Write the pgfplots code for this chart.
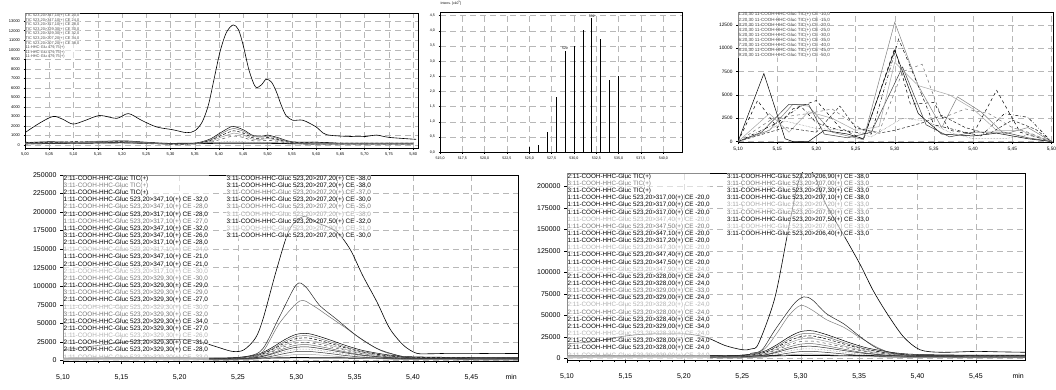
\documentclass[border=0pt]{standalone}
\usepackage{fontspec}
\setmainfont{Liberation Sans}
\usepackage{pgfplots}
\usepackage{pgfplotstable}
\pgfplotsset{compat=1.18}

\pgfplotstableread{
x a b c d e f
5.00 0.25 0.20 0.30 0.15 0.10 0.30
5.05 0.35 0.30 0.25 0.20 0.15 0.30
5.10 0.30 0.25 0.35 0.20 0.15 0.30
5.15 0.35 0.40 0.30 0.30 0.20 0.35
5.20 0.45 0.40 0.35 0.30 0.25 0.30
5.25 0.30 0.25 0.20 0.20 0.15 0.25
5.30 0.15 0.12 0.10 0.10 0.08 0.20
5.35 0.20 0.18 0.15 0.12 0.10 0.20
5.38 0.60 0.50 0.45 0.35 0.25 0.25
5.40 1.20 1.05 0.90 0.75 0.55 0.30
5.42 1.80 1.60 1.35 1.10 0.85 0.38
5.43 1.95 1.75 1.50 1.25 0.95 0.40
5.45 1.60 1.45 1.25 1.05 0.80 0.35
5.47 1.00 0.90 0.75 0.60 0.45 0.25
5.49 0.95 0.85 0.72 0.60 0.45 0.25
5.50 1.05 0.95 0.80 0.70 0.50 0.25
5.52 0.80 0.70 0.60 0.50 0.40 0.22
5.55 0.35 0.30 0.25 0.20 0.15 0.20
5.60 0.30 0.25 0.30 0.15 0.10 0.20
5.65 0.20 0.15 0.20 0.12 0.10 0.15
5.70 0.20 0.15 0.20 0.12 0.10 0.15
5.75 0.20 0.15 0.20 0.12 0.10 0.15
5.80 0.20 0.15 0.20 0.12 0.10 0.15
}\tabA

\pgfplotstableread{
x c1 c2 c3 c4 c5 c6 c7 c8 c9 c10
5.10 3 2 2.5 1.5 2 1 1.5 1 0.5 0.5
5.15 3.5 2.5 3 2 2.5 1.5 2 1.5 1 0.8
5.20 3.5 2.5 3 2 2.5 1.5 2 1.5 1 0.8
5.24 3 2 2.5 1.5 2 1 1.5 1 0.5 0.5
5.26 5.6 4.5 4.7 3.5 3.8 2.6 2.8 2.1 1.4 1.1
5.27 9.6 8.2 8.0 6.6 6.4 5.0 4.8 3.8 2.8 2.0
5.28 17.9 16.0 14.9 13.0 11.9 10.0 8.9 7.3 5.7 3.9
5.29 27.8 25.3 23.1 20.6 18.5 16.0 13.9 11.5 9.1 6.1
5.30 35.0 32.1 29.2 26.2 23.3 20.4 17.5 14.6 11.7 7.8
5.31 36.0 33.0 30.0 27.0 24.0 21.0 18.0 15.0 12.0 8.0
5.32 32.0 29.3 26.7 23.9 21.4 18.6 16.0 13.3 10.6 7.1
5.33 26.8 24.3 22.3 19.9 17.8 15.4 13.4 11.1 8.8 5.9
5.34 21.2 19.1 17.6 15.5 14.1 12.0 10.6 8.7 6.8 4.6
5.35 16.2 14.4 13.5 11.7 10.8 9.0 8.1 6.6 5.1 3.5
5.36 12.2 10.7 10.2 8.6 8.2 6.6 6.1 4.9 3.7 2.6
5.38 7.0 5.7 5.8 4.6 4.6 3.4 3.5 2.7 1.9 1.4
5.40 4.7 3.6 3.9 2.8 3.1 2.0 2.3 1.7 1.1 0.9
5.45 3.7 2.6 3.05 2.0 2.4 1.4 1.8 1.3 0.7 0.65
5.49 3.7 2.6 3.05 2.0 2.4 1.4 1.8 1.3 0.7 0.65
}\tabB

\pgfplotstableread{
x d1 d2 d3 d4 d5 d6 d7 d8 d9 d10
5.10 3 2 2.5 1.5 2 1 1.5 1 0.5 0.5
5.15 3.5 2.5 3 2 2.5 1.5 2 1.5 1 0.8
5.20 3.5 2.5 3 2 2.5 1.5 2 1.5 1 0.8
5.24 3 2 2.5 1.5 2 1 1.5 1 0.5 0.5
5.26 5.3 4.2 4.4 3.2 3.4 2.3 2.5 1.8 1.1 0.86
5.27 8.8 7.4 7.2 5.8 5.6 4.2 4.0 3.0 2.0 1.4
5.28 16.1 14.2 13.1 11.2 10.1 8.2 7.1 5.5 3.9 2.5
5.29 24.8 22.3 20.1 17.6 15.5 13.0 10.9 8.5 6.1 3.9
5.30 31.1 28.2 25.3 22.4 19.5 16.5 13.6 10.7 7.8 4.9
5.31 32.0 29.0 26.0 23.0 20.0 17.0 14.0 11.0 8.0 5.0
5.32 28.5 25.8 23.2 20.4 17.8 15.1 12.5 9.8 7.1 4.5
5.33 23.9 21.4 19.4 17.0 15.0 12.5 10.5 8.2 5.9 3.7
5.34 19.0 16.9 15.4 13.3 11.9 9.8 8.4 6.5 4.6 3.0
5.35 14.6 12.8 11.9 10.1 9.2 7.4 6.5 5.0 3.5 2.3
5.36 11.1 9.6 9.1 7.5 7.0 5.5 5.0 3.8 2.6 1.8
5.38 6.5 5.2 5.3 4.1 4.2 2.9 3.0 2.2 1.4 1.0
5.40 4.5 3.4 3.7 2.6 2.9 1.8 2.1 1.5 0.9 0.7
5.45 3.6 2.5 3.0 1.9 2.4 1.3 1.75 1.2 0.65 0.6
5.495 3.6 2.5 3.0 1.9 2.4 1.3 1.75 1.2 0.65 0.6
}\tabC

\pgfplotsset{
  base/.style={scale only axis, anchor=south west,
    axis line style={black, line width=0.5pt},
    tick align=outside, xtick pos=left, ytick pos=left,
    scaled x ticks=false, scaled y ticks=false,
    grid=major, major grid style={black!28, dash pattern=on 6pt off 4pt, line width=0.35pt},
    tick style={black, line width=0.35pt},
    every axis plot/.append style={line width=0.5pt, mark=none},
    clip=true},
  c1/.style={black},
  c2/.style={black!55},
  c3/.style={black, densely dashed},
  c4/.style={black!40},
  c5/.style={black!70, dashed},
  c6/.style={black!60},
  c7/.style={black!85},
  c8/.style={black!50, densely dotted},
  c9/.style={black!80},
  c10/.style={black!35},
}
\tikzset{legtext/.style={anchor=north west, align=left, inner sep=0.5pt, fill=white, fill opacity=0.55, text opacity=1}}

\begin{document}
\begin{tikzpicture}
\useasboundingbox (0pt,0pt) rectangle (1056pt,389pt);

% ---------------- Panel 1 ----------------
\begin{axis}[base, at={(25pt,241pt)}, width=393pt, height=135pt,
  xmin=5.0, xmax=5.81, ymin=-0.31, ymax=13.85,
  xtick={5.00,5.05,5.10,5.15,5.20,5.25,5.30,5.35,5.40,5.45,5.50,5.55,5.60,5.65,5.70,5.75,5.80},
  xticklabels={{5,00},{5,05},{5,10},{5,15},{5,20},{5,25},{5,30},{5,35},{5,40},{5,45},{5,50},{5,55},{5,60},{5,65},{5,70},{5,75},{5,80}},
  ytick={0,1,2,3,4,5,6,7,8,9,10,11,12,13},
  yticklabels={0,1000,2000,3000,4000,5000,6000,7000,8000,9000,10000,11000,12000,13000},
  tick label style={font=\fontsize{4}{4}\selectfont},
  major tick length=1.5pt]
\addplot[black, line width=1.1pt] coordinates {(5.00,0.15) (5.10,0.2) (5.20,0.25) (5.30,0.15) (5.40,0.2) (5.50,0.2) (5.60,0.12) (5.80,0.12)};
\addplot[smooth, c1] table[x=x,y=a]{\tabA};
\addplot[smooth, c2] table[x=x,y=b]{\tabA};
\addplot[smooth, c3] table[x=x,y=c]{\tabA};
\addplot[smooth, c4] table[x=x,y=d]{\tabA};
\addplot[smooth, c5] table[x=x,y=e]{\tabA};
\addplot[smooth, c8] table[x=x,y=f]{\tabA};
\addplot[smooth, black, line width=0.6pt] coordinates {
(5.000,1.3) (5.030,2.3) (5.058,3.0) (5.078,2.7) (5.099,2.2) (5.125,2.6) (5.154,3.1)
(5.189,2.8) (5.213,3.3) (5.240,2.6) (5.271,1.9) (5.305,1.6) (5.333,1.3) (5.350,1.5)
(5.365,2.4) (5.378,4.2) (5.390,7.0) (5.402,9.8) (5.415,11.8) (5.429,12.6) (5.440,12.1)
(5.450,10.4) (5.462,7.8) (5.475,6.1) (5.487,6.3) (5.497,6.9) (5.508,6.6) (5.518,5.6)
(5.528,4.2) (5.538,3.1) (5.552,2.6) (5.573,2.6) (5.600,1.9) (5.621,1.1) (5.669,0.9)
(5.703,0.9) (5.724,1.05) (5.751,0.8) (5.806,0.6)};
\node[legtext, font=\fontsize{3.9}{4.6}\selectfont, text=black!70] at (rel axis cs:0,1) {%
TIC 523,20>347,10(+) CE 20,0\\ TIC 523,20>347,10(+) CE 24,0\\ TIC 523,20>317,10(+) CE 28,0\\
TIC 523,20>329,30(+) CE 30,0\\ TIC 523,20>329,30(+) CE 32,0\\ TIC 523,20>207,20(+) CE 34,0\\
TIC 523,20>207,20(+) CE 38,0\\ 11-HHC-Glu 479,75(+)\\ 11-HHC-Glu 479,75(+)\\ 11-HHC-Glu 479,75(+)};
\end{axis}

% ---------------- Panel 2 ----------------
\begin{axis}[base, at={(440pt,237pt)}, width=242pt, height=140pt,
  xmin=515, xmax=542.1, ymin=0, ymax=4.62, clip=false,
  xtick={515,517.5,520,522.5,525,527.5,530,532.5,535,537.5,540},
  xticklabels={{515,0},{517,5},{520,0},{522,5},{525,0},{527,5},{530,0},{532,5},{535,0},{537,5},{540,0}},
  ytick={0,0.5,1,1.5,2,2.5,3,3.5,4,4.5},
  yticklabels={{0,0},{0,5},{1,0},{1,5},{2,0},{2,5},{3,0},{3,5},{4,0},{4,5}},
  tick label style={font=\fontsize{3.6}{3.6}\selectfont},
  major tick length=1.5pt,
  title={Intens. [x10\textsuperscript{5}]}, title style={at={(axis description cs:0,1)}, anchor=south west, font=\fontsize{3.4}{3.4}\selectfont, inner sep=0.5pt}]
\addplot[ycomb, black, line width=0.7pt] coordinates {
(525,0.16) (526,0.24) (527,0.65) (528,1.80) (529,3.34) (530,3.49) (531,4.02) (532,4.42) (533,3.74) (534,2.39) (535,2.50)};
\node[above, font=\fontsize{3.4}{3.4}\selectfont, inner sep=0.8pt] at (axis cs:529,3.34) {529};
\node[above, font=\fontsize{3.4}{3.4}\selectfont, inner sep=0.8pt] at (axis cs:532,4.42) {532};
\end{axis}

% ---------------- Panel 3 ----------------
\begin{axis}[base, at={(738pt,247pt)}, width=315pt, height=130pt,
  xmin=5.10, xmax=5.502, ymin=-50, ymax=13900,
  xtick={5.10,5.15,5.20,5.25,5.30,5.35,5.40,5.45,5.50},
  xticklabels={{5,10},{5,15},{5,20},{5,25},{5,30},{5,35},{5,40},{5,45},{5,50}},
  minor x tick num=4,
  ytick={0,2500,5000,7500,10000,12500},
  yticklabels={0,2500,5000,7500,10000,12500},
  tick label style={font=\fontsize{4.8}{4.8}\selectfont},
  major tick length=2pt, minor tick length=1.2pt]
\addplot[black] coordinates {(5.10,0) (5.133,7300) (5.16,300) (5.17,0) (5.19,0) (5.21,1200) (5.24,800) (5.26,300) (5.30,9800) (5.33,3000) (5.36,800) (5.40,600) (5.43,900) (5.47,300) (5.50,0)};
\addplot[black, dashed] coordinates {(5.10,0) (5.125,4400) (5.15,1500) (5.17,3500) (5.20,4400) (5.23,1500) (5.26,200) (5.30,10000) (5.32,4000) (5.35,4200) (5.37,1200) (5.40,800) (5.43,5500) (5.46,1000) (5.50,0)};
\addplot[black!50] coordinates {(5.10,0) (5.14,1200) (5.17,4000) (5.19,3800) (5.22,1000) (5.26,200) (5.30,12800) (5.33,6000) (5.36,1500) (5.38,4800) (5.41,3200) (5.44,800) (5.47,1500) (5.50,0)};
\addplot[black!75] coordinates {(5.10,0) (5.13,1000) (5.165,4000) (5.19,4000) (5.21,800) (5.24,400) (5.27,1000) (5.31,8000) (5.34,1800) (5.37,500) (5.40,1000) (5.44,1000) (5.47,400) (5.50,0)};
\addplot[black, dash dot] coordinates {(5.10,0) (5.15,2000) (5.18,3800) (5.20,2000) (5.23,1200) (5.27,800) (5.305,11000) (5.325,7000) (5.35,1800) (5.38,1200) (5.41,600) (5.44,3000) (5.47,2600) (5.50,0)};
\addplot[black!55, dashed] coordinates {(5.10,0) (5.145,2500) (5.19,3000) (5.22,3500) (5.26,1200) (5.28,1000) (5.31,7500) (5.335,8300) (5.36,2500) (5.39,3500) (5.42,3000) (5.45,1500) (5.47,1000) (5.50,0)};
\addplot[black!35] coordinates {(5.10,0) (5.14,3000) (5.165,1000) (5.19,3200) (5.22,2500) (5.25,1200) (5.28,1600) (5.30,8500) (5.33,6000) (5.37,5000) (5.40,3500) (5.43,1200) (5.46,1200) (5.50,0)};
\addplot[black!85, densely dashed] coordinates {(5.10,0) (5.16,1500) (5.20,1000) (5.23,3800) (5.25,1500) (5.28,900) (5.30,1200) (5.335,2000) (5.36,2800) (5.39,1500) (5.42,800) (5.45,2300) (5.48,1300) (5.50,0)};
\addplot[black!50, densely dotted] coordinates {(5.10,0) (5.13,800) (5.16,2200) (5.20,1400) (5.24,1200) (5.27,500) (5.31,2500) (5.34,2200) (5.37,1000) (5.40,300) (5.44,300) (5.47,700) (5.50,0)};
\node[legtext, font=\fontsize{4.5}{5.1}\selectfont, text=black!75] at (rel axis cs:0,1) {%
1:20,30 11-COOH-HHC-Gluc TIC(+) CE -10,0\\ 2:20,30 11-COOH-HHC-Gluc TIC(+) CE -15,0\\
3:20,30 11-COOH-HHC-Gluc TIC(+) CE -20,0\\ 4:20,30 11-COOH-HHC-Gluc TIC(+) CE -25,0\\
5:20,30 11-COOH-HHC-Gluc TIC(+) CE -30,0\\ 6:20,30 11-COOH-HHC-Gluc TIC(+) CE -35,0\\
7:20,30 11-COOH-HHC-Gluc TIC(+) CE -40,0\\ 8:20,30 11-COOH-HHC-Gluc TIC(+) CE -45,0\\
9:20,30 11-COOH-HHC-Gluc TIC(+) CE -50,0};
\end{axis}

% ---------------- Panel 4 ----------------
\begin{axis}[base, at={(63pt,28pt)}, width=455pt, height=186pt,
  xmin=5.10, xmax=5.49, ymin=-1, ymax=250,
  xtick={5.10,5.15,5.20,5.25,5.30,5.35,5.40,5.45},
  xticklabels={{5,10},{5,15},{5,20},{5,25},{5,30},{5,35},{5,40},{5,45}},
  minor x tick num=4,
  ytick={0,25,50,75,100,125,150,175,200,225,250},
  yticklabels={0,25000,50000,75000,100000,125000,150000,175000,200000,225000,250000},
  tick label style={font=\fontsize{7}{7}\selectfont},
  xticklabel style={yshift=-7pt},
  major tick length=3pt, minor tick length=2pt,
  xlabel={min}, xlabel style={at={(axis description cs:0.985,0)}, anchor=north, yshift=-13pt, font=\fontsize{7}{7}\selectfont, inner sep=0pt}]
\addplot[black, line width=1pt] coordinates {(5.10,2.5) (5.25,2.5) (5.30,3.5) (5.35,3) (5.49,2.5)};
\addplot[smooth, c1] table[x=x,y=c1]{\tabB};
\addplot[smooth, c2] table[x=x,y=c2]{\tabB};
\addplot[smooth, c3] table[x=x,y=c3]{\tabB};
\addplot[smooth, c4] table[x=x,y=c4]{\tabB};
\addplot[smooth, c5] table[x=x,y=c5]{\tabB};
\addplot[smooth, c6] table[x=x,y=c6]{\tabB};
\addplot[smooth, c7] table[x=x,y=c7]{\tabB};
\addplot[smooth, c8] table[x=x,y=c8]{\tabB};
\addplot[smooth, c9] table[x=x,y=c9]{\tabB};
\addplot[smooth, c10] table[x=x,y=c10]{\tabB};
\addplot[smooth, black!55] coordinates {(5.10,2.5) (5.20,2.5) (5.24,3) (5.26,5) (5.2715,12) (5.286,51) (5.303,80) (5.314,74) (5.329,58) (5.343,43) (5.357,27) (5.374,12) (5.392,5) (5.41,2.5) (5.49,2)};
\addplot[smooth, black!85] coordinates {(5.10,3) (5.20,3) (5.24,3) (5.26,6) (5.2715,16) (5.286,60) (5.300,102) (5.308,99) (5.320,74) (5.334,56) (5.351,34) (5.369,16) (5.386,7) (5.40,3) (5.45,2) (5.49,2)};
\addplot[smooth, black, line width=0.6pt] coordinates {(5.100,14) (5.120,18) (5.140,22) (5.160,26) (5.180,27.5) (5.200,28) (5.215,26) (5.230,19) (5.245,12) (5.255,14) (5.265,30) (5.2715,56) (5.283,122) (5.294,176) (5.306,194) (5.317,186) (5.334,174) (5.346,150) (5.357,114) (5.369,79) (5.380,43) (5.392,20) (5.403,9.5) (5.415,8.8) (5.430,9.3) (5.450,9.3) (5.470,9.0) (5.49,9.2)};
\node[legtext, font=\fontsize{6.4}{7.15}\selectfont] at (rel axis cs:0,1) {%
2:11-COOH-HHC-Gluc TIC(+)\\
{\color{black!50}3:11-COOH-HHC-Gluc TIC(+)}\\
2:11-COOH-HHC-Gluc TIC(+)\\
1:11-COOH-HHC-Gluc 523,20>347,10(+) CE -32,0\\
{\color{black!55}2:11-COOH-HHC-Gluc 523,20>347,10(+) CE -28,0}\\
2:11-COOH-HHC-Gluc 523,20>317,10(+) CE -28,0\\
{\color{black!55}1:11-COOH-HHC-Gluc 523,20>317,10(+) CE -27,0}\\
1:11-COOH-HHC-Gluc 523,20>347,10(+) CE -32,0\\
3:11-COOH-HHC-Gluc 523,20>347,10(+) CE -26,0\\
2:11-COOH-HHC-Gluc 523,20>317,10(+) CE -28,0\\
{\color{black!30}1:11-COOH-HHC-Gluc 523,20>317,10(+) CE -24,0}\\
1:11-COOH-HHC-Gluc 523,20>347,10(+) CE -21,0\\
2:11-COOH-HHC-Gluc 523,20>347,10(+) CE -21,0\\
{\color{black!30}2:11-COOH-HHC-Gluc 523,20>317,10(+) CE -30,0}\\
{\color{black!55}2:11-COOH-HHC-Gluc 523,20>329,30(+) CE -30,0}\\
2:11-COOH-HHC-Gluc 523,20>329,30(+) CE -29,0\\
{\color{black!55}3:11-COOH-HHC-Gluc 523,20>329,30(+) CE -29,0}\\
2:11-COOH-HHC-Gluc 523,20>329,30(+) CE -27,0\\
{\color{black!30}1:11-COOH-HHC-Gluc 523,20>329,30(+) CE -30,0}\\
{\color{black!55}3:11-COOH-HHC-Gluc 523,20>329,30(+) CE -32,0}\\
2:11-COOH-HHC-Gluc 523,20>329,30(+) CE -34,0\\
2:11-COOH-HHC-Gluc 523,20>329,30(+) CE -27,0\\
{\color{black!30}1:11-COOH-HHC-Gluc 523,20>329,30(+) CE -26,0}\\
2:11-COOH-HHC-Gluc 523,20>329,30(+) CE -31,0\\
2:11-COOH-HHC-Gluc 523,20>329,30(+) CE -28,0\\
{\color{black!30}1:11-COOH-HHC-Gluc 523,20>329,30(+) CE -33,0}};
\node[legtext, font=\fontsize{6.4}{7.15}\selectfont] at (axis cs:5.2397,250) {%
3:11-COOH-HHC-Gluc 523,20>207,20(+) CE -38,0\\
3:11-COOH-HHC-Gluc 523,20>207,20(+) CE -38,0\\
{\color{black!55}3:11-COOH-HHC-Gluc 523,20>207,20(+) CE -37,0}\\
3:11-COOH-HHC-Gluc 523,20>207,20(+) CE -30,0\\
{\color{black!55}3:11-COOH-HHC-Gluc 523,20>207,20(+) CE -35,0}\\
{\color{black!35}3:11-COOH-HHC-Gluc 523,20>207,20(+) CE -38,0}\\
3:11-COOH-HHC-Gluc 523,20>207,50(+) CE -32,0\\
{\color{black!30}3:11-COOH-HHC-Gluc 523,20>207,20(+) CE -31,0}\\
3:11-COOH-HHC-Gluc 523,20>207,20(+) CE -30,0};
\end{axis}

% ---------------- Panel 5 ----------------
\begin{axis}[base, at={(567pt,29pt)}, width=458pt, height=187pt,
  xmin=5.10, xmax=5.492, ymin=-2, ymax=215.8,
  xtick={5.10,5.15,5.20,5.25,5.30,5.35,5.40,5.45},
  xticklabels={{5,10},{5,15},{5,20},{5,25},{5,30},{5,35},{5,40},{5,45}},
  minor x tick num=4,
  ytick={0,25,50,75,100,125,150,175,200},
  yticklabels={0,25000,50000,75000,100000,125000,150000,175000,200000},
  tick label style={font=\fontsize{7}{7}\selectfont},
  xticklabel style={yshift=-7pt},
  major tick length=3pt, minor tick length=2pt,
  xlabel={min}, xlabel style={at={(axis description cs:0.985,0)}, anchor=north, yshift=-13pt, font=\fontsize{7}{7}\selectfont, inner sep=0pt}]
\addplot[black, line width=1pt] coordinates {(5.10,2.5) (5.25,2.5) (5.30,3.5) (5.35,3) (5.492,2.5)};
\addplot[smooth, c1] table[x=x,y=d1]{\tabC};
\addplot[smooth, c2] table[x=x,y=d2]{\tabC};
\addplot[smooth, c3] table[x=x,y=d3]{\tabC};
\addplot[smooth, c4] table[x=x,y=d4]{\tabC};
\addplot[smooth, c5] table[x=x,y=d5]{\tabC};
\addplot[smooth, c6] table[x=x,y=d6]{\tabC};
\addplot[smooth, c7] table[x=x,y=d7]{\tabC};
\addplot[smooth, c8] table[x=x,y=d8]{\tabC};
\addplot[smooth, c9] table[x=x,y=d9]{\tabC};
\addplot[smooth, c10] table[x=x,y=d10]{\tabC};
\addplot[smooth, black!50] coordinates {(5.10,2) (5.24,2.5) (5.26,5) (5.27,12) (5.28,30) (5.29,50) (5.30,61.6) (5.31,56) (5.322,45) (5.337,36) (5.351,24) (5.37,10) (5.39,4) (5.492,2.5)};
\addplot[smooth, black!85] coordinates {(5.10,3) (5.24,3) (5.258,6) (5.267,10) (5.278,33) (5.294,63) (5.3026,71.5) (5.31,68) (5.322,52) (5.337,40) (5.351,25) (5.365,12) (5.38,6) (5.40,3.5) (5.492,3)};
\addplot[smooth, black, line width=0.6pt] coordinates {(5.100,17) (5.124,19.5) (5.145,25) (5.165,28) (5.19,28.5) (5.205,28) (5.22,24) (5.235,15) (5.25,10) (5.258,11) (5.264,17.5) (5.278,71) (5.29,154) (5.298,205) (5.305,222) (5.312,212) (5.321,181) (5.337,143) (5.351,109) (5.362,79) (5.374,52) (5.388,25) (5.402,10) (5.42,7) (5.45,8) (5.47,7.5) (5.492,7)};
\node[legtext, font=\fontsize{6.3}{7.15}\selectfont] at (rel axis cs:0,1) {%
2:11-COOH-HHC-Gluc TIC(+)\\
{\color{black!50}3:11-COOH-HHC-Gluc TIC(+)}\\
3:11-COOH-HHC-Gluc TIC(+)\\
1:11-COOH-HHC-Gluc 523,20>317,00(+) CE -20,0\\
1:11-COOH-HHC-Gluc 523,20>317,00(+) CE -20,0\\
1:11-COOH-HHC-Gluc 523,20>317,00(+) CE -20,0\\
{\color{black!30}1:11-COOH-HHC-Gluc 523,20>347,40(+) CE -20,0}\\
{\color{black!55}1:11-COOH-HHC-Gluc 523,20>347,50(+) CE -20,0}\\
1:11-COOH-HHC-Gluc 523,20>347,10(+) CE -20,0\\
1:11-COOH-HHC-Gluc 523,20>317,20(+) CE -20,0\\
{\color{black!30}1:11-COOH-HHC-Gluc 523,20>347,30(+) CE -20,0}\\
1:11-COOH-HHC-Gluc 523,20>347,40(+) CE -20,0\\
1:11-COOH-HHC-Gluc 523,20>347,50(+) CE -20,0\\
{\color{black!30}2:11-COOH-HHC-Gluc 523,20>347,90(+) CE -24,0}\\
2:11-COOH-HHC-Gluc 523,20>328,00(+) CE -24,0\\
2:11-COOH-HHC-Gluc 523,20>328,00(+) CE -24,0\\
{\color{black!55}3:11-COOH-HHC-Gluc 523,20>329,00(+) CE -33,0}\\
2:11-COOH-HHC-Gluc 523,20>329,00(+) CE -24,0\\
{\color{black!30}2:11-COOH-HHC-Gluc 523,20>328,20(+) CE -24,0}\\
{\color{black!55}2:11-COOH-HHC-Gluc 523,20>328,00(+) CE -24,0}\\
2:11-COOH-HHC-Gluc 523,20>328,40(+) CE -24,0\\
2:11-COOH-HHC-Gluc 523,20>329,00(+) CE -34,0\\
{\color{black!30}2:11-COOH-HHC-Gluc 523,20>328,30(+) CE -24,0}\\
2:11-COOH-HHC-Gluc 523,20>328,00(+) CE -24,0\\
2:11-COOH-HHC-Gluc 523,20>328,00(+) CE -24,0\\
{\color{black!30}2:11-COOH-HHC-Gluc 523,20>329,00(+) CE -34,0}};
\node[legtext, font=\fontsize{6.3}{7.15}\selectfont] at (axis cs:5.2364,215.8) {%
3:11-COOH-HHC-Gluc 523,20>206,90(+) CE -38,0\\
{\color{black!55}3:11-COOH-HHC-Gluc 523,20>207,00(+) CE -33,0}\\
3:11-COOH-HHC-Gluc 523,20>207,30(+) CE -33,0\\
3:11-COOH-HHC-Gluc 523,20>207,10(+) CE -38,0\\
{\color{black!35}3:11-COOH-HHC-Gluc 523,20>207,20(+) CE -33,0}\\
{\color{black!55}3:11-COOH-HHC-Gluc 523,20>207,90(+) CE -33,0}\\
3:11-COOH-HHC-Gluc 523,20>207,50(+) CE -33,0\\
{\color{black!30}3:11-COOH-HHC-Gluc 523,20>207,60(+) CE -33,0}\\
3:11-COOH-HHC-Gluc 523,20>206,40(+) CE -33,0};
\end{axis}
\end{tikzpicture}
\end{document}
